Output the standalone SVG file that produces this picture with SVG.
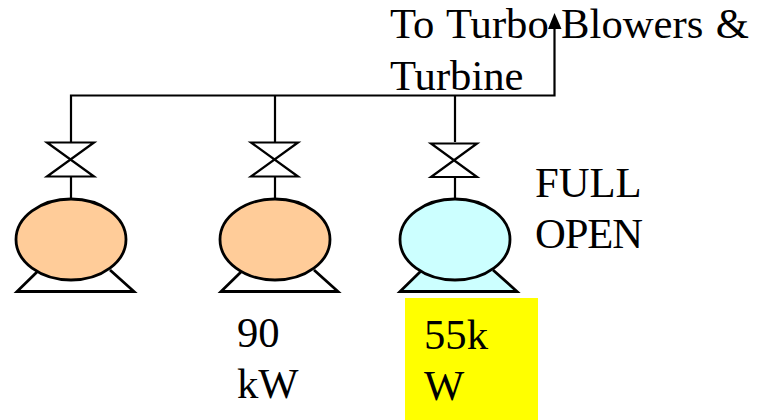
<svg xmlns="http://www.w3.org/2000/svg" width="760" height="420" viewBox="0 0 760 420">
<style>
text{font-family:"Liberation Serif","Times New Roman",serif;font-size:42.670px;fill:#000}
.l{fill:none;stroke:#000;stroke-width:2.200}
.v{fill:#fff;stroke:#000;stroke-width:2.200;stroke-linejoin:miter}
.m{stroke:#000;stroke-width:2.800}
.or{fill:#ffcc99}
.cy{fill:#ccffff}
.wh{fill:#fff}
</style>
<rect width="760" height="420" fill="#fff"/>
<g id="label-yellow"><rect x="405" y="298" width="133" height="122" fill="#ffff00"/></g>
<g id="labels">
<text x="390" y="38" word-spacing="1.700">To Turbo Blowers &amp;</text>
<text x="390" y="90">Turbine</text>
<text x="535" y="197">FULL</text>
<text x="535" y="248" textLength="108">OPEN</text>
<text x="237" y="347">90</text>
<text x="237" y="398">kW</text>
<text x="424" y="349">55k</text>
<text x="424" y="400">W</text>
</g>
<g id="connectors">
<path class="l" d="M71 142V95.500H554.500V26"/>
<path d="M554.500 13L548 29H561.500Z" fill="#000"/>
<path class="l" d="M275 95.500V142M455 95.500V142M71 176V199M275 176V199M455 176V199"/>
</g>
<g id="pump1">
<path class="m wh" d="M38 271L17 291.500H134L110 270"/>
<ellipse class="m or" cx="71" cy="239.500" rx="55" ry="40.500"/>
<path class="v" d="M47 142.500H94L47 176.500H94Z"/>
</g>
<g id="pump2">
<path class="m wh" d="M242 271L221 291.500H338L314 270"/>
<ellipse class="m or" cx="275" cy="239.500" rx="55" ry="40.500"/>
<path class="v" d="M251 142.500H298L251 176.500H298Z"/>
</g>
<g id="pump3">
<path class="m cy" d="M421 271L400 291.500H517L493 270"/>
<ellipse class="m cy" cx="455" cy="239.500" rx="55" ry="40.500"/>
<path class="v" d="M431 143.500H477L431 177H477Z"/>
</g>
</svg>
